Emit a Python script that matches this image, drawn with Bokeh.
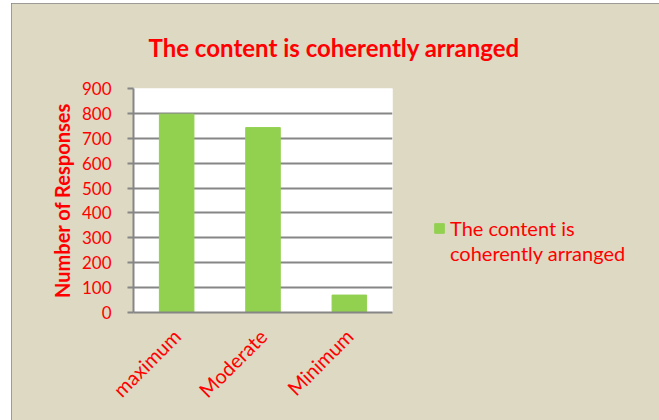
import math
from bokeh.plotting import figure
from bokeh.models import Legend, LegendItem, FactorRange, Range1d, FixedTicker, Title
from bokeh.embed import file_html
from bokeh.resources import INLINE

categories = ["maximum", "Moderate", "Minimum"]
responses = [797, 743, 70]
series_lines = ["The content is", "coherently arranged"]
title_text = "The content is coherently arranged"
y_ticks = [0, 100, 200, 300, 400, 500, 600, 700, 800, 900]

RED = "#FF0000"
GREEN = "#92D050"
BG = "#DDD9C3"
GRID = "#868686"
FONT = "Lato"

p = figure(x_range=FactorRange(*categories, range_padding=0), y_range=Range1d(0, 900),
           frame_width=259, frame_height=224, output_backend="svg", toolbar_location=None,
           min_border_left=122, min_border_right=0, min_border_top=85, min_border_bottom=108)
p.margin = (3, 0, 0, 11)
p.styles = {"outline": "2px solid #868686", "outline-offset": "-2px"}
p.border_fill_color = BG
p.background_fill_color = "white"
p.outline_line_color = None

r = p.vbar(x=categories, top=responses, width=0.4, color=GREEN)

p.yaxis.ticker = FixedTicker(ticks=y_ticks)
p.ygrid.grid_line_color = GRID
p.ygrid.grid_line_width = 2
p.xgrid.grid_line_color = None
for ax in (p.xaxis[0], p.yaxis[0]):
    ax.axis_line_color = GRID
    ax.axis_line_width = 2
    ax.major_label_text_color = RED
    ax.major_label_text_font = FONT
    ax.minor_tick_line_color = None
p.yaxis.major_tick_line_color = GRID
p.yaxis.major_tick_line_width = 2
p.yaxis.major_tick_out = 6
p.yaxis.major_tick_in = 0
p.yaxis.major_label_text_font_size = "17px"
p.yaxis.major_label_standoff = 16
p.yaxis.axis_label = "Number of Responses"
p.yaxis.axis_label_text_color = RED
p.yaxis.axis_label_text_font = FONT
p.yaxis.axis_label_text_font_style = "bold"
p.yaxis.axis_label_text_font_size = "20px"
p.yaxis.axis_label_standoff = 5
p.xaxis.major_tick_line_color = None
p.xaxis.major_label_orientation = math.pi / 4
p.xaxis.major_label_text_font_size = "20px"
p.xaxis.major_label_standoff = 14

title = Title(text=title_text, align="left", offset=15, standoff=54, text_color=RED,
              text_font=FONT, text_font_style="bold", text_font_size="24px")
p.add_layout(title, "above")

legend = Legend(items=[LegendItem(label=series_lines[0], renderers=[r]),
                       LegendItem(label=series_lines[1], renderers=[])],
                location=(41, 47), background_fill_alpha=0, border_line_color=None,
                label_text_color=RED, label_text_font=FONT, label_text_font_size="20px",
                glyph_width=12, glyph_height=12, label_standoff=5, margin=0, padding=10,
                spacing=1)
p.add_layout(legend, "right")

open("out.html", "w").write(file_html(p, INLINE))
